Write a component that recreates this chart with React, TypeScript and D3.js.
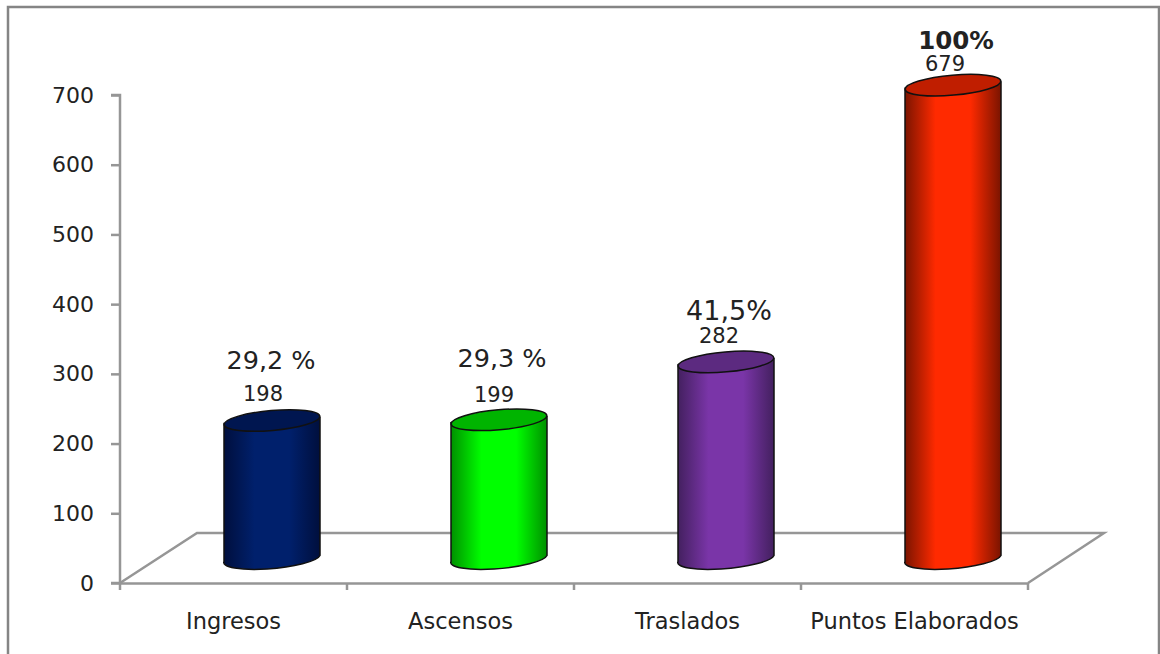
import React, { useEffect, useRef } from 'react';
import * as d3 from 'd3';

const categories = ['Ingresos', 'Ascensos', 'Traslados', 'Puntos Elaborados'];
const values = [198, 199, 282, 679];
const percentLabels = ['29,2 %', '29,3 %', '41,5%', '100%'];
const yTicks = [0, 100, 200, 300, 400, 500, 600, 700];
const edgeColors = ['#000f3d', '#009000', '#43205f', '#7a1400'];
const midColors = ['#00206c', '#00ff00', '#7a35a8', '#ff2a00'];
const topColors = ['#001650', '#00b400', '#5c2a80', '#c01e00'];

const FONT = '"DejaVu Sans", sans-serif';
const GREY = '#969696';

export default function App() {
  const svgRef = useRef<SVGSVGElement>(null);

  useEffect(() => {
    if (!svgRef.current) return;
    const svg = d3.select(svgRef.current);
    svg.selectAll('*').remove();

    const x = d3.scaleBand<string>().domain(categories).range([120, 1028]);
    const y = d3.scaleLinear().domain([0, 700]).range([583, 95]);

    // depth of the 3d floor
    const depthX = 77;
    const depthY = 50;
    // cylinders stand in the middle of the floor
    const shiftX = 38.5;
    const shiftY = 24.5;
    const rx = 48;
    const ry = 10;
    const tilt = -5;
    const rise = 3;

    // frame
    svg.append('rect')
      .attr('x', 8).attr('y', 7)
      .attr('width', 1151).attr('height', 660)
      .attr('fill', 'white')
      .attr('stroke', '#858585')
      .attr('stroke-width', 2.5);

    // floor
    svg.append('path')
      .attr('d', `M${x.range()[0]},${y(0)} L${x.range()[0] + depthX},${y(0) - depthY} L${x.range()[1] + depthX - 1},${y(0) - depthY} L${x.range()[1]},${y(0)}`)
      .attr('fill', 'none')
      .attr('stroke', GREY)
      .attr('stroke-width', 2.5);

    // axes
    const yAxis = svg.append('g')
      .attr('transform', 'translate(120,0)')
      .call(d3.axisLeft(y).tickValues(yTicks).tickSize(9).tickPadding(17));
    const xAxis = svg.append('g')
      .attr('transform', `translate(0,${y(0)})`)
      .call(d3.axisBottom(x).tickSize(0).tickPadding(30));

    [yAxis, xAxis].forEach(a => {
      a.selectAll('path').attr('stroke', GREY).attr('stroke-width', 2.5);
      a.selectAll('line').attr('stroke', GREY).attr('stroke-width', 2.5);
      a.selectAll('text')
        .attr('fill', '#222')
        .style('font-family', FONT);
    });
    yAxis.select('.domain').attr('d', `M-9,${y(700)} H0 V${y(0)} H-9`);
    yAxis.selectAll('text').style('font-size', '22px');
    xAxis.selectAll('text').style('font-size', '22.5px');

    // ticks between the categories
    svg.append('g')
      .selectAll('line')
      .data(categories.concat(''))
      .join('line')
      .attr('x1', (_, i) => 120 + i * x.bandwidth())
      .attr('x2', (_, i) => 120 + i * x.bandwidth())
      .attr('y1', y(0))
      .attr('y2', y(0) + 7)
      .attr('stroke', GREY)
      .attr('stroke-width', 2.5);

    const defs = svg.append('defs');
    categories.forEach((_, i) => {
      const grad = defs.append('linearGradient').attr('id', `body${i}`);
      grad.append('stop').attr('offset', '0%').attr('stop-color', edgeColors[i]);
      grad.append('stop').attr('offset', '32%').attr('stop-color', midColors[i]);
      grad.append('stop').attr('offset', '68%').attr('stop-color', midColors[i]);
      grad.append('stop').attr('offset', '100%').attr('stop-color', edgeColors[i]);
    });

    const bars = svg.append('g')
      .selectAll('g')
      .data(categories)
      .join('g')
      .attr('transform', d => `translate(${x(d)! + x.bandwidth() / 2 + shiftX},0)`);

    bars.append('path')
      .attr('d', (_, i) => {
        const top = y(values[i]) - shiftY;
        const base = y(0) - shiftY;
        return `M${-rx},${top + rise} V${base + rise} A${rx},${ry} ${tilt} 0 0 ${rx},${base - rise} V${top - rise} Z`;
      })
      .attr('fill', (_, i) => `url(#body${i})`)
      .attr('stroke', '#111')
      .attr('stroke-width', 1.5);

    bars.append('ellipse')
      .attr('rx', rx)
      .attr('ry', ry)
      .attr('transform', (_, i) => `translate(0,${y(values[i]) - shiftY}) rotate(${tilt})`)
      .attr('fill', (_, i) => topColors[i])
      .attr('stroke', '#111')
      .attr('stroke-width', 1.5);

    // value labels
    const valueOffsetX = [-9, -5, -7, -8];
    const valueOffsetY = [19, 18, 19, 14];
    bars.append('text')
      .attr('x', (_, i) => valueOffsetX[i])
      .attr('y', (_, i) => y(values[i]) - shiftY - valueOffsetY[i])
      .attr('text-anchor', 'middle')
      .style('font-family', FONT)
      .style('font-size', '21px')
      .attr('fill', '#222')
      .text((_, i) => values[i]);

    // percent labels
    const pctOffsetX = [-1, 3, 3, 3];
    const pctOffsetY = [51.5, 53, 42, 36];
    const pctSizes = [25.5, 25.5, 27, 24.5];
    bars.append('text')
      .attr('x', (_, i) => pctOffsetX[i])
      .attr('y', (_, i) => y(values[i]) - shiftY - pctOffsetY[i])
      .attr('text-anchor', 'middle')
      .style('font-family', FONT)
      .style('font-size', (_, i) => `${pctSizes[i]}px`)
      .style('font-weight', (_, i) => (i === 3 ? 'bold' : 'normal'))
      .attr('fill', '#222')
      .text((_, i) => percentLabels[i]);
  }, []);

  return (
    <svg
      ref={svgRef}
      width={1160}
      height={654}
      style={{ position: 'fixed', left: 0, top: 0, background: 'white' }}
    />
  );
}
